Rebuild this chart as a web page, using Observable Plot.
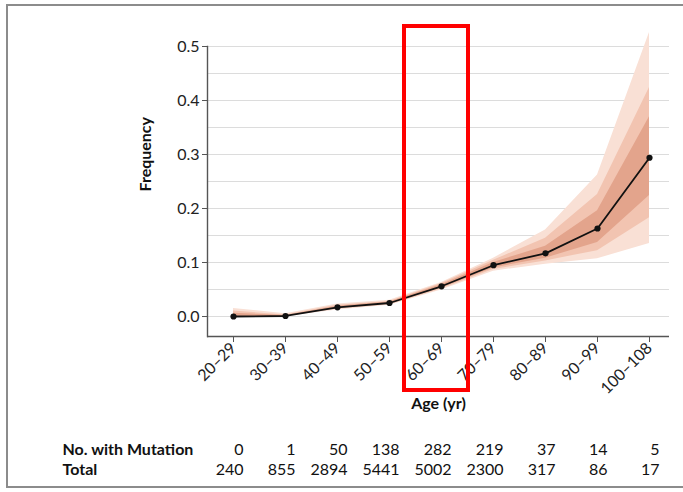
<!DOCTYPE html>
<html>
<head>
<meta charset="utf-8">
<script src="https://cdn.jsdelivr.net/npm/d3@7"></script>
<script src="https://cdn.jsdelivr.net/npm/@observablehq/plot@0.6"></script>
<style>
  html, body { margin: 0; padding: 0; background: #fff; width: 683px; height: 492px; overflow: hidden; }
  #border { position: absolute; left: 6px; top: 4px; width: 700px; height: 484px; border: 2px solid #8c8c8c; box-sizing: border-box; }
  #main { position: absolute; left: 0; top: 0; }
  #table { position: absolute; left: 0; top: 438px; }
  #hl { position: absolute; border: 4px solid #ff0000; box-sizing: border-box; }
</style>
</head>
<body>
<div id="border"></div>
<div id="main"></div>
<div id="table"></div>
<div id="hl"></div>
<script>
const ages = ["20–29","30–39","40–49","50–59","60–69","70–79","80–89","90–99","100–108"];
const freq = [0, 0.001, 0.017, 0.025, 0.056, 0.095, 0.117, 0.163, 0.294];
const outerLo = [0, 0, 0.012, 0.021, 0.049, 0.084, 0.097, 0.107, 0.135];
const outerHi = [0.015, 0.005, 0.023, 0.030, 0.063, 0.108, 0.160, 0.262, 0.526];
const midLo = [0, 0, 0.014, 0.022, 0.051, 0.087, 0.103, 0.122, 0.183];
const midHi = [0.010, 0.003, 0.021, 0.028, 0.061, 0.104, 0.145, 0.226, 0.424];
const innerLo = [0, 0, 0.015, 0.023, 0.053, 0.090, 0.108, 0.137, 0.224];
const innerHi = [0.006, 0.002, 0.019, 0.027, 0.059, 0.100, 0.130, 0.196, 0.370];
const withMutation = [0, 1, 50, 138, 282, 219, 37, 14, 5];
const totals = [240, 855, 2894, 5441, 5002, 2300, 317, 86, 17];
const yTicks = [0, 0.1, 0.2, 0.3, 0.4, 0.5];
const gridValues = [0, 0.05, 0.1, 0.15, 0.2, 0.25, 0.3, 0.35, 0.4, 0.45, 0.5];
const yMin = -0.037, yMax = 0.5;

const data = ages.map((a, i) => ({
  age: a, f: freq[i],
  oLo: outerLo[i], oHi: outerHi[i],
  mLo: midLo[i], mHi: midHi[i],
  iLo: innerLo[i], iHi: innerHi[i]
}));

const font = "Lato, 'Noto Sans', sans-serif";
const W = 683;
const xScale = { type: "point", domain: ages, range: [231, 651], padding: 0 };

const main = Plot.plot({
  width: W, height: 420,
  marginLeft: 207, marginRight: 14, marginTop: 46, marginBottom: 84,
  style: { fontFamily: font, fontSize: "15px", color: "#222", background: "transparent", overflow: "visible" },
  x: xScale,
  y: { domain: [yMin, yMax], range: [336, 46] },
  marks: [
    Plot.ruleY(gridValues, { stroke: "#dcdcdc", strokeWidth: 1.2 }),
    Plot.areaY(data, { x: "age", y1: "oLo", y2: "oHi", fill: "#f9e0d5" }),
    Plot.areaY(data, { x: "age", y1: "mLo", y2: "mHi", fill: "#f2c4b1" }),
    Plot.areaY(data, { x: "age", y1: "iLo", y2: "iHi", fill: "#e3a48c" }),
    Plot.line(data, { x: "age", y: "f", stroke: "#111", strokeWidth: 1.8 }),
    Plot.dot(data, { x: "age", y: "f", r: 3.1, fill: "#111", stroke: "none" }),
    Plot.frame({ anchor: "left", stroke: "#555", strokeWidth: 1.4 }),
    Plot.ruleY([yMin], { stroke: "#555", strokeWidth: 1.4 }),
    Plot.axisY({ ticks: yTicks, tickFormat: d3.format(".1f"), tickSize: 5, tickPadding: 3, label: null, fontSize: 16, stroke: "#555" }),
    Plot.axisX({ tickSize: 6, tickPadding: 3, tickRotate: -45, label: null, fontSize: 16, stroke: "#555" }),
    Plot.text(["Age (yr)"], { frameAnchor: "bottom", dy: 72, fontWeight: "bold", fontSize: 16, fill: "#111" }),
    Plot.text(["Frequency"], { frameAnchor: "left", dx: -62, rotate: -90, fontWeight: "bold", fontSize: 16, fill: "#111" })
  ]
});
document.getElementById("main").appendChild(main);

const rows = ["No. with Mutation", "Total"];
const tableData = [];
ages.forEach((a, i) => {
  tableData.push({ age: a, row: rows[0], v: withMutation[i] });
  tableData.push({ age: a, row: rows[1], v: totals[i] });
});
const table = Plot.plot({
  width: W, height: 42,
  marginLeft: 207, marginRight: 14, marginTop: 0, marginBottom: 0,
  style: { fontFamily: font, fontSize: "16px", color: "#111", background: "transparent", overflow: "visible" },
  x: { ...xScale, axis: null },
  y: { type: "point", domain: rows, range: [11, 31], padding: 0, axis: null },
  marks: [
    Plot.text(tableData, { x: "age", y: "row", text: d => String(d.v), textAnchor: "end", dx: 10, fontSize: 16, fill: "#111" }),
    Plot.text(rows, { y: d => d, frameAnchor: "left", dx: -145, textAnchor: "start", fontWeight: "bold", fontSize: 16, fill: "#111" })
  ]
});
document.getElementById("table").appendChild(table);

// highlight box around the 60–69 category, positioned via the plot's x scale
const cx = main.scale("x").apply("60–69");
const hl = document.getElementById("hl");
hl.style.left = (cx - 39) + "px";
hl.style.width = "68px";
hl.style.top = "24px";
hl.style.height = "368px";
</script>
</body>
</html>
